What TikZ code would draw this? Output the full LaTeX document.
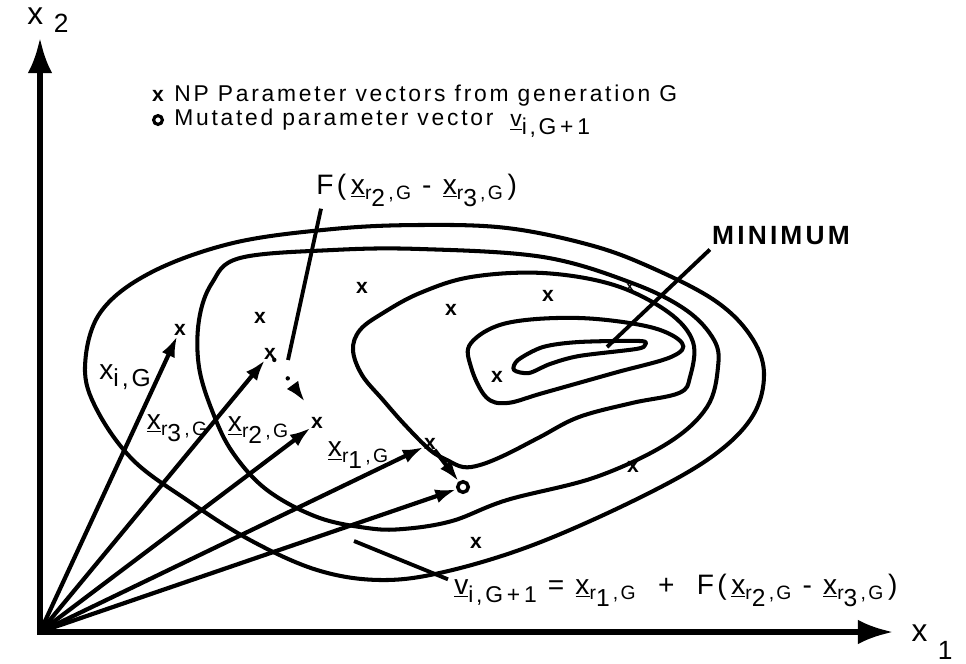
\documentclass[tikz,border=0pt]{standalone}
\usepackage{fontspec}
\setmainfont{Liberation Sans}
\newfontfamily\lblfont[LetterSpace=12]{Liberation Sans}
\usetikzlibrary{arrows.meta}
\usetikzlibrary{positioning}
\newcommand{\xr}[1]{\underline{x}\raisebox{-.4ex}{\fontsize{11}{11}\selectfont r\raisebox{-.6ex}{\fontsize{14}{14}\selectfont #1}\,,G}}
\newcommand{\vig}{\underline{v}\raisebox{-.6ex}{\fontsize{13}{13}\selectfont i,G\,+\,1}}

\begin{document}
\begin{tikzpicture}[x=0.02cm, y=-0.02cm,
    contour/.style={line width=2.3pt, line join=round},
    vec/.style={line width=2.4pt, -{Latex[length=12pt,width=8pt]}},
    axis/.style={line width=3pt, line join=miter, {Latex[length=20pt,width=14pt]}-{Latex[length=20pt,width=14pt]}},
    pt/.style={font=\fontsize{12}{12}\selectfont\bfseries, inner sep=0pt},
    ring/.style={circle, draw, line width=2pt, minimum size=6pt, inner sep=0pt},
    lbl/.style={font=\lblfont\fontsize{13}{15}\selectfont, inner sep=0pt},
    vlbl/.style={font=\lblfont\fontsize{16}{18}\selectfont, inner sep=0pt},
    lead/.style={line width=2.2pt}]
    \useasboundingbox (0,0) rectangle (966,663);

    % axes
    \coordinate (O) at (40,632);
    \coordinate (ytop) at (40,38);
    \coordinate (xend) at (893,632);
    \draw [axis] (ytop) -- (O) -- (xend);
    \node [font=\lblfont\fontsize{18}{18}\selectfont, inner sep=0pt] (x2) at (48,20) {x\hspace{6pt}\raisebox{-.5ex}{\fontsize{15}{15}\selectfont 2}};
    \node [font=\lblfont\fontsize{18}{18}\selectfont, inner sep=0pt] (x1) at (932,642) {x\hspace{6pt}\raisebox{-1.1ex}{\fontsize{15}{15}\selectfont 1}};

    % legend
    \node [pt] (lgx) at (158,96) {x};
    \node [lbl, anchor=west] (lg1) at (174,96) {NP Parameter vectors from generation G};
    \node [ring, line width=1.8pt, minimum size=5pt] (lgo) at (158,120) {};
    \node [lbl, anchor=west] (lg2) at (174,120) {Mutated parameter vector};
    \node [lbl, anchor=west] (lgv) at (510,126) {\vig};

    % contour lines
    \draw [contour] plot [smooth cycle, tension=0.6] coordinates {(233,243) (333,229) (420,225) (507,228) (590,245) (650,267) (714,300) (750,335) (764,373) (752,417) (710,458) (635,500) (533,545) (444,572) (380,580) (317,570) (250,540) (187,500) (133,460) (97,410) (85,367) (100,313) (150,273)};
    \draw [contour] plot [smooth cycle, tension=0.6] coordinates {(240,258) (333,250) (420,249) (543,257) (632,283) (686,310) (714,340) (718,367) (707,407) (668,443) (596,477) (507,500) (452,521) (403,529) (367,528) (317,517) (267,490) (233,453) (213,413) (199,367) (199,320) (212,283)};
    \draw [contour] plot [smooth cycle, tension=0.6] coordinates {(471,277) (543,273) (614,285) (668,312) (693,342) (690,377) (679,393) (632,403) (579,417) (540,437) (505,455) (480,465) (463,467) (447,460) (430,450) (405,425) (383,400) (362,375) (353,350) (360,330) (383,313) (420,293)};
    \draw [contour] plot [smooth cycle, tension=0.6] coordinates {(471,343) (507,323) (579,318) (650,327) (682,343) (671,357) (614,373) (543,393) (507,403) (486,397) (471,367)};
    \draw [contour] plot [smooth cycle, tension=0.5] coordinates {(518,360) (543,347) (579,342) (640,341) (645,345) (636,349) (579,356) (550,364) (529,373) (514,370)};

    % population
    \node [pt] (xi) at (180,330) {x};
    \node [pt] (xr3) at (270,354) {x};
    \node [pt] (xr2) at (317,423) {x};
    \node [pt] (xr1) at (430,444) {x};
    \node [ring] (v) at (463,487) {};
    \foreach \p [count=\k] in {(260,318),(362,288),(451,310),(548,296),(497,377),(633,467),(476,543)}
        \node [pt] (m\k) at \p {x};
    \node [pt, scale=0.6] (m8) at (630,287) {x};

    % vectors
    \draw [vec] (O) -- (xi);
    \draw [vec] (O) -- (xr3);
    \draw [vec] (O) -- (xr2);
    \draw [vec] (O) -- (xr1);
    \draw [vec] (O) -- (v);
    \coordinate (dtip) at (305,402);
    \draw [line width=2.5pt, line cap=round, dash pattern=on 0pt off 13pt, -{Latex[length=12pt,width=8pt]}] (xr3) -- (dtip);
    \draw [vec] (xr1) -- (v);

    \node [vlbl] at (125,377) (lxi) {x\raisebox{-.5ex}{\fontsize{14}{14}\selectfont i,G}};
    \node [vlbl] at (177,428) (lxr3) {\xr{3}};
    \node [vlbl] at (258,430) (lxr2) {\xr{2}};
    \node [vlbl] at (358,455) (lxr1) {\xr{1}};

    % labels with leaders
    \node [vlbl, anchor=west] (Flbl) at (316,190) {F(\,\xr{2}\ -\ \xr{3}\,)};
    \coordinate (fend) at (288,360);
    \draw [lead] ([shift={(5,2)}]Flbl.south west) -- (fend);

    \node [font=\lblfont\bfseries\fontsize{15}{15}\selectfont, inner sep=0pt] (minlbl) at (781,236) {MINIMUM};
    \coordinate (minpt) at (607,347);
    \draw [lead] ([shift={(-2,4)}]minlbl.south west) -- (minpt);

    \node [vlbl, anchor=west] (eq) at (454,590) {\vig\ =\ \xr{1}\ \ +\ \ F(\,\xr{2}\ -\ \xr{3}\,)};
    \coordinate (vl) at (354,541);
    \draw [lead] (vl) -- ([shift={(-6,6)}]eq.north west);
\end{tikzpicture}
\end{document}
